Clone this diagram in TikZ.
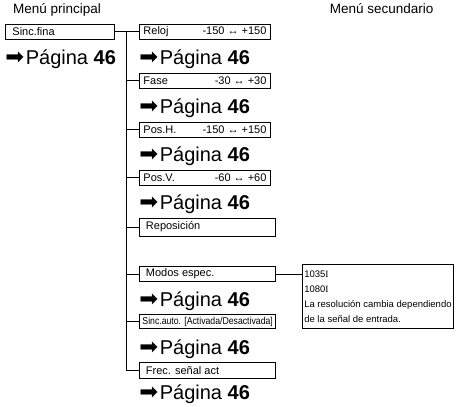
\documentclass[tikz,border=0pt]{standalone}
\usepackage{fontspec}
\setmainfont{Liberation Sans}
\newfontfamily\arrowfont{DejaVu Sans}
\newfontfamily\serifi{Liberation Serif}
\usepackage{graphicx}
\usetikzlibrary{positioning}

\newcommand{\irpag}{{\arrowfont\fontsize{22.5}{24}\selectfont ➡}\hspace{1.5pt}Página \textbf{46}}
\newcommand{\itemtxt}[2]{\makebox[123pt][l]{#1\hfill#2}}

\begin{document}
\begin{tikzpicture}[x=1pt, y=-1pt, line width=0.9pt,
  menubox/.style={draw, anchor=north west, inner xsep=0pt, inner ysep=0pt,
    minimum height=15pt, font=\fontsize{11}{13}\selectfont},
  pagina/.style={anchor=base west, inner sep=0pt, font=\fontsize{20}{24}\selectfont},
  heading/.style={anchor=base west, inner sep=0pt, font=\fontsize{13.5}{16}\selectfont}]

  \useasboundingbox (0,0) rectangle (462,406);

  % Headings
  \node[heading] (principal) at (12.7,14) {Menú principal};
  \node[heading] (secundario) at (329.3,14) {Menú secundario};

  % Main menu
  \node[menubox, minimum width=109pt] (sincfina) at (5,24) {\makebox[95pt][l]{Sinc.fina}};
  \node[pagina] (pag0) at (5,65) {\irpag};

  % Sub menu
  \node[menubox, minimum width=131pt] (reloj) at (139,24) {\itemtxt{Reloj}{-150 ↔ +150}};
  \node[pagina] (pag1) at (139,65) {\irpag};

  \node[menubox, minimum width=131pt] (fase) at (139,73) {\itemtxt{Fase}{-30 ↔ +30}};
  \node[pagina] (pag2) at (139,114) {\irpag};

  \node[menubox, minimum width=131pt] (posh) at (139,122) {\itemtxt{Pos.H.}{-150 ↔ +150}};
  \node[pagina] (pag3) at (139,161.5) {\irpag};

  \node[menubox, minimum width=131pt] (posv) at (139,169.5) {\itemtxt{Pos.V.}{-60 ↔ +60}};
  \node[pagina] (pag4) at (139,209.5) {\irpag};

  \node[menubox, minimum width=136pt, minimum height=18pt] (repos) at (139,217.5) {\itemtxt{Reposición}{}};

  \node[menubox, minimum width=136pt] (modos) at (139,266) {\itemtxt{Modos espec.}{}};
  \node[pagina] (pag5) at (139,306) {\irpag};

  \node[menubox, minimum width=136pt, minimum height=14pt] (sincauto) at (139,314)
    {\fontsize{10}{12}\selectfont\makebox[130pt][l]{\scalebox{0.87}[1]{Sinc.auto. [Activada/Desactivada]}}};
  \node[pagina] (pag6) at (139,354) {\irpag};

  \node[menubox, minimum width=136pt, minimum height=16pt] (frec) at (139,362) {\itemtxt{Frec. señal act}{}};
  \node[pagina] (pag7) at (139,399.5) {\irpag};

  % Secondary menu
  \node[draw, anchor=north west, minimum width=151.6pt, minimum height=64pt, inner xsep=2pt,
    align=left, font=\fontsize{9.5}{15}\selectfont] (detail) at (301.7,264.3)
    {1035{\serifi I}\\1080{\serifi I}\\La resolución cambia dependiendo\\de la señal de entrada.};

  % Tree lines
  \coordinate (junction) at (126.7,31.5);
  \draw (sincfina.east) -- (reloj.west);
  \draw (junction) |- (frec.west);
  \foreach \n in {fase, posh, posv, repos, modos, sincauto}
    \draw (junction |- \n.west) -- (\n.west);
  \draw (modos.east) -- (modos.east -| detail.west);

\end{tikzpicture}
\end{document}
